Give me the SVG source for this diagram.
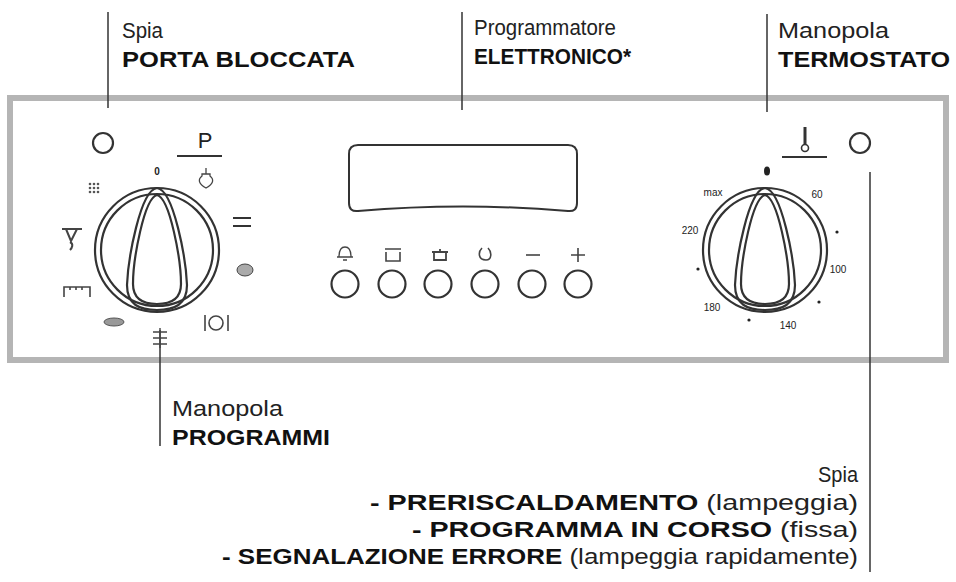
<svg xmlns="http://www.w3.org/2000/svg" width="956" height="582" viewBox="0 0 956 582">
<style>
.t{font-family:"Liberation Sans",Arial,sans-serif;font-size:22px;fill:#222}
.b{font-weight:bold;fill:#111}
.s{font-family:"Liberation Sans",Arial,sans-serif;font-size:10px;fill:#222}
.ln{stroke:#333;stroke-width:1.5;fill:none}
.k{fill:none;stroke:#333;stroke-width:2.2}
</style>
<rect width="956" height="582" fill="#fff"/>
<rect x="10" y="98" width="936" height="262" fill="none" stroke="#b5b5b5" stroke-width="6"/>
<g id="connectors">
<line class="ln" x1="108" y1="12" x2="108" y2="108"/>
<line class="ln" x1="462" y1="12" x2="462" y2="110"/>
<line class="ln" x1="767" y1="14" x2="767" y2="112"/>
<line class="ln" x1="870" y1="172" x2="870" y2="572"/>
<line class="ln" x1="160" y1="330" x2="160" y2="446"/>
</g>
<g id="label-porta"><text class="t" x="122" y="38" textLength="41" lengthAdjust="spacingAndGlyphs">Spia</text><text class="t b" x="122" y="67" textLength="233" lengthAdjust="spacingAndGlyphs">PORTA BLOCCATA</text></g>
<g id="label-prog"><text class="t" x="474" y="35" textLength="142" lengthAdjust="spacingAndGlyphs">Programmatore</text><text class="t b" x="474" y="64" textLength="157" lengthAdjust="spacingAndGlyphs">ELETTRONICO*</text></g>
<g id="label-term"><text class="t" x="778" y="38" textLength="111" lengthAdjust="spacingAndGlyphs">Manopola</text><text class="t b" x="778" y="67" textLength="172" lengthAdjust="spacingAndGlyphs">TERMOSTATO</text></g>
<g id="label-programmi"><text class="t" x="172" y="416" textLength="111" lengthAdjust="spacingAndGlyphs">Manopola</text><text class="t b" x="172" y="445" textLength="158" lengthAdjust="spacingAndGlyphs">PROGRAMMI</text></g>
<g id="label-spia" text-anchor="end">
<text class="t" x="858" y="482" textLength="40" lengthAdjust="spacingAndGlyphs">Spia</text>
<text class="t" x="858" y="510" textLength="488" lengthAdjust="spacingAndGlyphs"><tspan class="b">- PRERISCALDAMENTO</tspan> (lampeggia)</text>
<text class="t" x="858" y="537" textLength="446" lengthAdjust="spacingAndGlyphs"><tspan class="b">- PROGRAMMA IN CORSO</tspan> (fissa)</text>
<text class="t" x="858" y="564" textLength="636" lengthAdjust="spacingAndGlyphs"><tspan class="b">- SEGNALAZIONE ERRORE</tspan> (lampeggia rapidamente)</text>
</g>
<g id="lamp-left"><circle cx="103" cy="143" r="10" class="k" stroke-width="1.8"/></g>
<g id="lamp-right"><circle cx="860" cy="143" r="10" class="k" stroke-width="1.8"/></g>
<g id="knob-programmi">
<circle cx="157" cy="250" r="62" class="k"/><circle cx="157" cy="250" r="56" class="k" stroke-width="1.5"/>
<path class="k" d="M157 188 C140 190 128 260 127 285 C127 305 140 310 157 310 C174 310 187 305 187 285 C186 260 174 190 157 188 Z"/>
<path class="k" stroke-width="1.3" d="M157 195 C144 198 133 260 133 284 C133 300 144 304 157 304 C170 304 181 300 181 284 C181 260 170 198 157 195 Z"/>
<text class="s" x="157" y="175" text-anchor="middle" font-weight="bold">0</text>
<text x="205" y="148" font-family="Liberation Sans,Arial,sans-serif" font-size="22" fill="#222" text-anchor="middle">P</text>
<line x1="177" y1="156" x2="222" y2="156" stroke="#333" stroke-width="2"/>
<path d="M206 168 v6 M202 174 h8 l0 2 c4 3 4 8 -4 12 c-8 -4 -8 -9 -4 -12 Z" fill="none" stroke="#444" stroke-width="1.3"/>
<path d="M233 218 h18 M233 226 h18" stroke="#333" stroke-width="2"/>
<g fill="#555"><circle cx="90" cy="184" r="1.3"/><circle cx="94" cy="184" r="1.3"/><circle cx="98" cy="184" r="1.3"/><circle cx="90" cy="188" r="1.3"/><circle cx="94" cy="188" r="1.3"/><circle cx="98" cy="188" r="1.3"/><circle cx="90" cy="192" r="1.3"/><circle cx="94" cy="192" r="1.3"/><circle cx="98" cy="192" r="1.3"/></g>
<path d="M62 229 h20 M66 229 l5 12 l6 -12 M70 242 c4 2 2 6 0 8" fill="none" stroke="#444" stroke-width="2"/>
<path d="M64 297 v-10 h26 v10 M70 287 v3 M76 287 v3 M82 287 v3" fill="none" stroke="#444" stroke-width="1.6"/>
<ellipse cx="114" cy="322" rx="10" ry="4" fill="#999" stroke="#555"/>
<path d="M153 332 h14 M153 338 h14 M153 344 h14 M160 328 v20" stroke="#444" stroke-width="1.4"/>
<ellipse cx="245" cy="270" rx="8" ry="6" fill="#aaa" stroke="#444"/>
<path d="M205 315 v16 M228 315 v16 M209 323 a7 7 0 1 0 14 0 a7 7 0 1 0 -14 0" fill="none" stroke="#444" stroke-width="1.6"/>
</g>
<g id="programmer">
<path d="M358 145 H568 Q577 145 577 154 V203 Q577 212 568 211 Q463 202 358 211 Q349 212 349 203 V154 Q349 145 358 145 Z" fill="none" stroke="#333" stroke-width="2"/>
<path d="M339 257 q0 -10 6 -10 q6 0 6 10 h2 h-16 Z M343 260 h4" fill="none" stroke="#444" stroke-width="1.3"/>
<path d="M385 249 h16 M386 252 v9 h14 v-9" fill="none" stroke="#444" stroke-width="1.6"/>
<path d="M432 252 h16 M434 252 v8 h12 v-8 M440 249 v3" fill="none" stroke="#444" stroke-width="1.8"/>
<path d="M482 248 c-4 4 -4 12 4 12 c6 0 6 -8 2 -12" fill="none" stroke="#444" stroke-width="1.6"/>
<path d="M526 255 h14" stroke="#444" stroke-width="1.6"/>
<path d="M571 255 h14 M578 248 v14" stroke="#444" stroke-width="1.6"/>
<g class="k" stroke-width="2"><circle cx="345" cy="284" r="13.5"/><circle cx="392" cy="284" r="13.5"/><circle cx="438" cy="284" r="13.5"/><circle cx="485" cy="284" r="13.5"/><circle cx="532" cy="284" r="13.5"/><circle cx="578" cy="284" r="13.5"/></g>
</g>
<g id="knob-termostato">
<circle cx="765" cy="250" r="62" class="k"/><circle cx="765" cy="250" r="56" class="k" stroke-width="1.5"/>
<path class="k" d="M765 188 C748 190 736 260 735 285 C735 305 748 310 765 310 C782 310 795 305 795 285 C794 260 782 190 765 188 Z"/>
<path class="k" stroke-width="1.3" d="M765 195 C752 198 741 260 741 284 C741 300 752 304 765 304 C778 304 789 300 789 284 C789 260 778 198 765 195 Z"/>
<ellipse cx="767" cy="171" rx="3" ry="4.5" fill="#222"/>
<line x1="805" y1="127" x2="805" y2="144" stroke="#333" stroke-width="3"/>
<circle cx="805" cy="148" r="3.5" fill="none" stroke="#333" stroke-width="1.6"/>
<line x1="782" y1="157" x2="827" y2="157" stroke="#333" stroke-width="2"/>
<g class="s"><text x="713" y="196" text-anchor="middle">max</text><text x="817" y="198" text-anchor="middle">60</text><text x="690" y="234" text-anchor="middle">220</text><text x="838" y="273" text-anchor="middle">100</text><text x="712" y="311" text-anchor="middle">180</text><text x="788" y="329" text-anchor="middle">140</text></g>
<g fill="#222"><circle cx="837" cy="232" r="1.6"/><circle cx="698" cy="269" r="1.6"/><circle cx="819" cy="302" r="1.6"/><circle cx="749" cy="320" r="1.6"/></g>
</g>
</svg>
